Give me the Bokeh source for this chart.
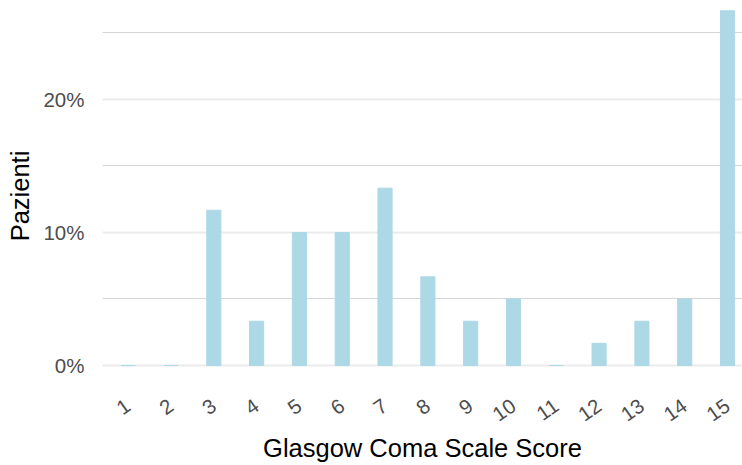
import math
from bokeh.plotting import figure
from bokeh.models import ColumnDataSource, Range1d, FixedTicker
from bokeh.embed import file_html
from bokeh.resources import INLINE

scores = list(range(1, 16))
tick_labels = [str(s) for s in scores]
pazienti_pct = [0, 0, 11.67, 3.33, 10, 10, 13.33, 6.67, 3.33, 5, 0, 1.67, 3.33, 5, 26.67]
y_major = [0, 10, 20]
y_minor = [5, 15, 25]
y_labels = ["0%", "10%", "20%"]

FONT = "Liberation Sans"

src = ColumnDataSource(dict(x=scores, top=pazienti_pct))

p = figure(width=742, height=465, output_backend="svg", toolbar_location=None,
           x_range=Range1d(0.4, 15.35), y_range=Range1d(-1.353, 26.84),
           min_border_left=102, min_border_right=0, min_border_top=8, min_border_bottom=82)
p.outline_line_color = None
p.background_fill_color = "white"
p.border_fill_color = "white"

p.vbar(x="x", top="top", bottom=0, width=0.33, source=src,
       fill_color="#add8e6", line_color="#add8e6", line_width=1)

# grids
p.xgrid.grid_line_color = None
p.ygrid.ticker = FixedTicker(ticks=y_major, minor_ticks=y_minor)
p.ygrid.grid_line_color = "#ebebeb"
p.ygrid.grid_line_width = 2
p.ygrid.minor_grid_line_color = "#d6d6d6"
p.ygrid.minor_grid_line_width = 1
p.ygrid.level = "underlay"

# y axis
ya = p.yaxis[0]
ya.ticker = FixedTicker(ticks=y_major, minor_ticks=y_minor)
ya.major_label_overrides = {t: l for t, l in zip(y_major, y_labels)}
ya.axis_line_color = None
ya.major_tick_line_color = None
ya.minor_tick_line_color = None
ya.major_tick_out = 0
ya.major_tick_in = 0
ya.major_label_standoff = 14
ya.major_label_text_font = FONT
ya.major_label_text_font_size = "20.5px"
ya.major_label_text_color = "#4d4d4d"
ya.axis_label = "Pazienti"
ya.axis_label_text_font = FONT
ya.axis_label_text_font_size = "25.5px"
ya.axis_label_text_font_style = "normal"
ya.axis_label_text_color = "black"
ya.axis_label_standoff = 6

# x axis
xa = p.xaxis[0]
xa.ticker = FixedTicker(ticks=scores)
xa.major_label_overrides = {s: l for s, l in zip(scores, tick_labels)}
xa.major_label_orientation = math.radians(35)
xa.axis_line_color = None
xa.major_tick_line_color = None
xa.minor_tick_line_color = None
xa.major_tick_out = 0
xa.major_tick_in = 0
xa.major_label_standoff = 20
xa.major_label_text_font = FONT
xa.major_label_text_font_size = "20.5px"
xa.major_label_text_color = "#4d4d4d"
xa.axis_label = "Glasgow Coma Scale Score"
xa.axis_label_text_font = FONT
xa.axis_label_text_font_size = "25.5px"
xa.axis_label_text_font_style = "normal"
xa.axis_label_text_color = "black"
xa.axis_label_standoff = 3

open("out.html", "w").write(file_html(p, INLINE))
